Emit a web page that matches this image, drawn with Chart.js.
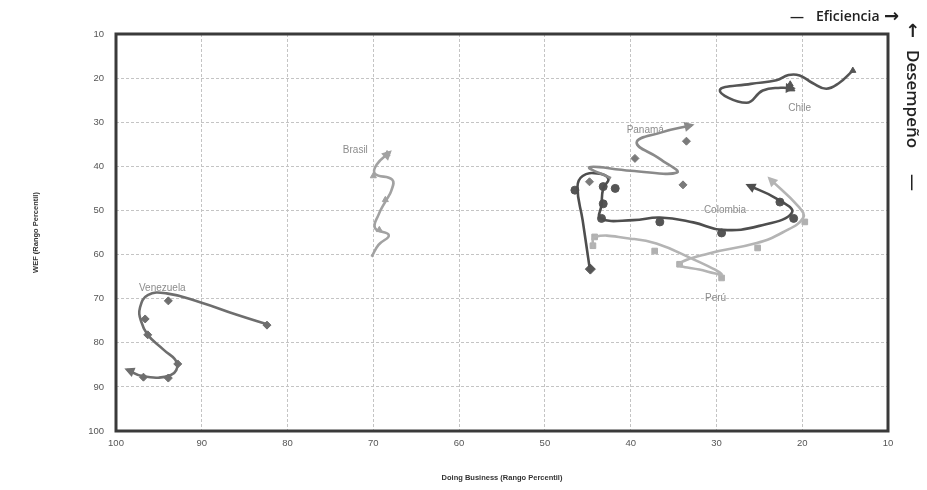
<!DOCTYPE html>
<html>
<head>
<meta charset="utf-8">
<script src="https://cdn.jsdelivr.net/npm/chart.js@4/dist/chart.umd.min.js"></script>
<style>
  body { margin: 0; background: #fff; }
  #wrap { width: 927px; height: 490px; position: relative; }
</style>
</head>
<body>
<div id="wrap"><canvas id="myChart"></canvas></div>
<script>
// axis ticks (both scales reversed)
const xTicks = [100, 90, 80, 70, 60, 50, 40, 30, 20, 10];
const yTicks = [10, 20, 30, 40, 50, 60, 70, 80, 90, 100];

// paths: [doing business, wef]
const venezuelaPath = [[82.4,75.8],[86,73.6],[90.2,70.8],[94.1,68.8],[96.3,69.2],[97.2,72],[97.1,75],[96.3,78.2],[94.5,81.5],[92.9,84.6],[93.6,87.3],[96.8,87.6],[98.7,86.1]];
const venezuelaMarks = [[82.4,76],[93.9,70.5],[96.6,74.6],[96.3,78.2],[92.8,84.8],[93.9,88],[96.8,87.8]];

const brasilPath = [[70.2,60.5],[69.4,57.8],[68.2,55.6],[69.8,54],[69.4,51],[68.6,48],[67.9,45.5],[67.8,43],[69.8,41.7],[69.6,39.6],[68.1,36.8]];
const brasilMarks = [[68.6,47.6],[69.3,54.4],[70,42.2],[68.4,37.2]];

const panamaPath = [[42.3,42.7],[44.8,40.2],[40,41],[34.6,41.4],[36.6,38.3],[39.3,34.6],[36.4,32.3],[32.9,30.7]];
const panamaMarks = [[33.5,34.3],[39.5,38.2],[33.9,44.2],[44.8,43.5]];

const colombiaPath = [[44.8,62.8],[45.6,52.2],[46.2,44.7],[45.6,42.2],[43.9,41.6],[42.6,42.8],[43.2,45],[43.4,48.8],[43.5,51.8],[39.7,52.2],[36.6,51.6],[32.7,52.7],[29.3,54.4],[25,53.5],[21.2,50.5],[23,47.3],[26.3,44.3]];
const colombiaMarks = [[46.5,45.4],[43.2,44.6],[41.8,45],[43.2,48.5],[43.4,51.8],[36.6,52.6],[29.4,55.1],[21,51.8],[22.6,48.1]];
const colombiaStart = [[44.7,63.3]];

const peruPath = [[44.4,58.5],[44.2,56],[40,56.4],[37,57.5],[33,60.8],[29.4,64.4],[32,63.4],[34.3,62.2],[31,59.8],[25.3,57.4],[22.3,55],[19.9,51.7],[20.4,49.2],[23.8,42.8]];
const peruMarks = [[44.2,56],[44.4,58],[37.2,59.2],[34.3,62.2],[29.4,65.3],[25.2,58.5],[19.7,52.6]];

const chilePath = [[14.1,18.3],[15.7,21.1],[17.2,22.4],[18.8,21.1],[20.3,19.4],[21.6,19.3],[23,20.5],[26,21.3],[29.6,22.7],[26.5,25.6],[24.6,22.8],[22.5,22.2],[21.1,22.3]];
const chileMarks = [[14.1,18.3],[21.4,21.4],[21.2,22.5]];

// country labels
const labelNames = ["Venezuela", "Brasil", "Panamá", "Colombia", "Perú", "Chile"];
const labelX = [94.6, 72.1, 38.3, 29.0, 30.1, 20.3];
const labelY = [67.6, 36.3, 31.8, 49.9, 69.9, 26.8];

const toXY = arr => arr.map(p => ({ x: p[0], y: p[1] }));

function pathSet(name, pts, color) {
  return {
    label: name, data: toXY(pts), showLine: true, tension: 0.45,
    borderColor: color, borderWidth: 2.6, pointRadius: 0, arrow: true
  };
}
function markSet(name, pts, color, style, r) {
  return {
    label: name, data: toXY(pts), showLine: false, pointStyle: style,
    pointRadius: r || 4, backgroundColor: color, borderColor: color, borderWidth: 1
  };
}

const datasets = [
  pathSet("Venezuela", venezuelaPath, "#6e6e6e"),
  markSet("Venezuela m", venezuelaMarks, "#6e6e6e", "rectRot"),
  pathSet("Brasil", brasilPath, "#a2a2a2"),
  markSet("Brasil m", brasilMarks, "#a2a2a2", "triangle", 3.5),
  pathSet("Panamá", panamaPath, "#8a8a8a"),
  markSet("Panamá m", panamaMarks, "#7a7a7a", "rectRot"),
  pathSet("Perú", peruPath, "#b4b4b4"),
  markSet("Perú m", peruMarks, "#b0b0b0", "rect"),
  pathSet("Colombia", colombiaPath, "#4e4e4e"),
  markSet("Colombia m", colombiaMarks, "#555555", "circle"),
  markSet("Colombia s", colombiaStart, "#555555", "rectRot", 5),
  pathSet("Chile", chilePath, "#555555"),
  markSet("Chile m", chileMarks, "#555555", "triangle", 3.5)
];

// arrow heads, frame and free texts
const extras = {
  id: "extras",
  afterDatasetsDraw(chart) {
    const ctx = chart.ctx;
    chart.data.datasets.forEach((ds, i) => {
      if (!ds.arrow) return;
      const pts = chart.getDatasetMeta(i).data;
      const last = pts[pts.length - 1];
      let fx = last.cp1x, fy = last.cp1y;
      if (fx === undefined || (Math.abs(fx - last.x) < 0.5 && Math.abs(fy - last.y) < 0.5)) {
        fx = pts[pts.length - 2].x; fy = pts[pts.length - 2].y;
      }
      const a = Math.atan2(last.y - fy, last.x - fx);
      ctx.save();
      ctx.translate(last.x, last.y);
      ctx.rotate(a);
      ctx.fillStyle = ds.borderColor;
      ctx.beginPath();
      ctx.moveTo(3, 0);
      ctx.lineTo(-7, -5);
      ctx.lineTo(-7, 5);
      ctx.closePath();
      ctx.fill();
      ctx.restore();
    });

    const ca = chart.chartArea;
    ctx.save();
    ctx.strokeStyle = "#3a3a3a";
    ctx.lineWidth = 3;
    ctx.strokeRect(ca.left, ca.top, ca.right - ca.left, ca.bottom - ca.top);

    const xs = chart.scales.x, ys = chart.scales.y;
    ctx.fillStyle = "#8c8c8c";
    ctx.font = "10px 'Liberation Sans', sans-serif";
    ctx.textAlign = "center";
    ctx.textBaseline = "middle";
    labelNames.forEach((n, k) => {
      ctx.fillText(n, xs.getPixelForValue(labelX[k]), ys.getPixelForValue(labelY[k]));
    });

    // axis titles
    ctx.fillStyle = "#333";
    ctx.font = "bold 7.5px 'Liberation Sans', sans-serif";
    ctx.fillText("Doing Business (Rango Percentil)", (ca.left + ca.right) / 2, 478);
    ctx.save();
    ctx.translate(36, (ca.top + ca.bottom) / 2);
    ctx.rotate(-Math.PI / 2);
    ctx.fillText("WEF (Rango Percentil)", 0, 0);
    ctx.restore();

    // direction hints
    ctx.fillStyle = "#222";
    ctx.textAlign = "left";
    ctx.font = "600 14px 'Open Sans', sans-serif";
    ctx.fillText("—", 790, 17);
    ctx.fillText("Eficiencia", 816, 17);
    ctx.font = "bold 18px 'DejaVu Sans', sans-serif";
    ctx.fillText("→", 884, 17);
    ctx.fillText("↑", 905, 32);
    ctx.save();
    ctx.translate(906, 50);
    ctx.rotate(Math.PI / 2);
    ctx.font = "600 17px 'Open Sans', sans-serif";
    ctx.textBaseline = "middle";
    ctx.fillText("Desempeño", 0, -6);
    ctx.fillText("—", 124, -6);
    ctx.restore();
    ctx.restore();
  }
};

new Chart(document.getElementById("myChart"), {
  type: "scatter",
  data: { datasets: datasets },
  options: {
    responsive: true,
    maintainAspectRatio: false,
    animation: false,
    layout: { padding: { top: 34, right: 39, left: 0, bottom: 0 } },
    plugins: { legend: { display: false }, tooltip: { enabled: false } },
    scales: {
      x: {
        type: "linear", min: 10, max: 100, reverse: true,
        afterFit: s => { s.height = 59; },
        afterBuildTicks: s => { s.ticks = xTicks.map(v => ({ value: v })); },
        ticks: { color: "#555", font: { size: 9.5, family: "'Liberation Sans', sans-serif" }, padding: 7 },
        grid: { color: "#c4c4c4", lineWidth: 1, tickLength: 0 },
        border: { display: false, dash: [3, 2] }
      },
      y: {
        type: "linear", min: 10, max: 100, reverse: true,
        afterFit: s => { s.width = 116; },
        afterBuildTicks: s => { s.ticks = yTicks.map(v => ({ value: v })); },
        ticks: { color: "#555", font: { size: 9.5, family: "'Liberation Sans', sans-serif" }, padding: 12 },
        grid: { color: "#c4c4c4", lineWidth: 1, tickLength: 0 },
        border: { display: false, dash: [3, 2] }
      }
    }
  },
  plugins: [extras]
});
</script>
</body>
</html>
